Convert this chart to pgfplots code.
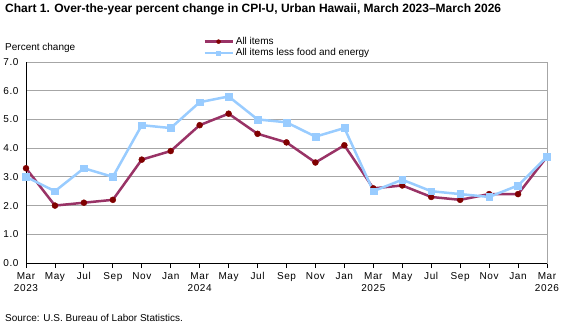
\documentclass[border=0pt]{standalone}
\usepackage{pgfplots}
\pgfplotsset{compat=1.18}
\usepackage{fontspec}
\setmainfont{Liberation Sans}
\newfontfamily\tickfont[LetterSpace=6]{Liberation Sans}
\definecolor{allitems}{HTML}{993366}
\definecolor{allmark}{HTML}{800000}
\definecolor{core}{HTML}{99CCFF}
\definecolor{gridgray}{HTML}{A6A6A6}
\begin{document}
\begin{tikzpicture}
\path[use as bounding box] (0pt,0pt) rectangle (568pt,-327pt);
\node[anchor=north west,inner sep=0pt,font=\fontsize{12}{14}\selectfont\bfseries] at (5pt,-4pt)
  {Chart 1. Over-the-year percent change in CPI-U, Urban Hawaii, March 2023--March 2026};
\node[anchor=west,inner sep=0pt,font=\fontsize{10}{12}\selectfont] at (5pt,-48pt) {Percent change};
\node[anchor=west,inner sep=0pt,font=\fontsize{10}{12}\selectfont] at (5pt,-318pt) {Source: U.S. Bureau of Labor Statistics.};
\begin{axis}[
    at={(26pt,-263pt)}, anchor=south west,
    scale only axis, width=521pt, height=201pt,
    xmin=0, xmax=18, ymin=0, ymax=7,
    xtick=data,
    xticklabels={{Mar\\2023},May,Jul,Sep,Nov,Jan,{Mar\\2024},May,Jul,Sep,Nov,Jan,{Mar\\2025},May,Jul,Sep,Nov,Jan,{Mar\\2026}},
    xticklabel style={align=center,font=\tickfont\fontsize{10}{12}\selectfont, yshift=-1pt},
    yticklabel style={font=\tickfont\fontsize{10}{12}\selectfont, xshift=1pt},
    ytick={0,1,...,7},
    /pgf/number format/.cd, fixed, fixed zerofill, precision=1, assume math mode=true, /pgfplots/.cd,
    xtick pos=bottom, tick align=outside,
    major tick length=5pt,
    xtick style={black, line width=0.8pt},
    ytick style={draw=none},
    ymajorgrids, grid style={gridgray, line width=0.8pt},
    axis line style={gridgray, line width=0.8pt},
    legend style={at={(0.34,1.134)}, anchor=north west, draw=none, fill=none,
        font=\fontsize{10}{12}\selectfont, row sep=-1.5pt, inner sep=0pt,
        cells={anchor=west}},
    legend cell align=left,
    legend image code/.code={
        \draw[#1, mark repeat=2, mark phase=2, mark size=2pt]
            plot coordinates {(0pt,0pt) (14pt,0pt) (28pt,0pt)};},
    clip=false,
]
\addplot[allitems, line width=2.5pt, mark=*, mark size=3pt,
    mark options={fill=allmark, draw=allmark, line width=0.4pt}]
coordinates {
(0,3.3) (1,2.0) (2,2.1) (3,2.2) (4,3.6) (5,3.9) (6,4.8) (7,5.2) (8,4.5) (9,4.2)
(10,3.5) (11,4.1) (12,2.6) (13,2.7) (14,2.3) (15,2.2) (16,2.4) (17,2.4) (18,3.7)
};
\addlegendentry{All items}
\addplot[core, line width=2.5pt, mark=square*, mark size=3.4pt,
    mark options={fill=core, draw=core, line width=0.4pt}]
coordinates {
(0,3.0) (1,2.5) (2,3.3) (3,3.0) (4,4.8) (5,4.7) (6,5.6) (7,5.8) (8,5.0) (9,4.9)
(10,4.4) (11,4.7) (12,2.5) (13,2.9) (14,2.5) (15,2.4) (16,2.3) (17,2.7) (18,3.7)
};
\addlegendentry{All items less food and energy}
\draw[black, line width=0.8pt] (rel axis cs:0,1) -- (rel axis cs:0,0) -- (rel axis cs:1,0);
\end{axis}
\end{tikzpicture}
\end{document}
